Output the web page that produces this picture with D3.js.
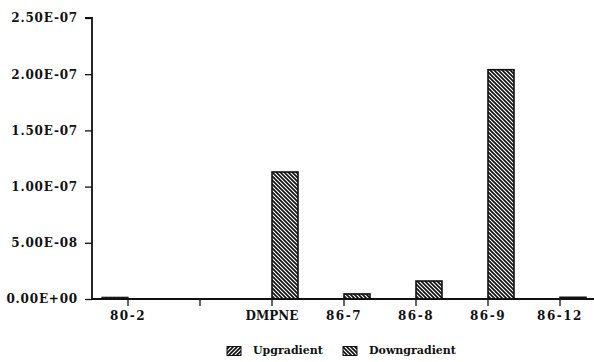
<!DOCTYPE html>
<html>
<head>
<meta charset="utf-8">
<script src="https://cdn.jsdelivr.net/npm/d3@7"></script>
<style>
  html, body { margin: 0; padding: 0; background: #fff; }
  svg { display: block; }
</style>
</head>
<body>
<svg id="chart" width="594" height="362"></svg>
<script>
const categories = ["80-2", "", "DMPNE", "86-7", "86-8", "86-9", "86-12"];
const upgradient = [1.5e-9, 0, 0, 0, 0, 0, 0];
const downgradient = [0, 0, 1.13e-7, 4.5e-9, 1.6e-8, 2.04e-7, 1.5e-9];
const yTicks = [0, 5e-8, 1e-7, 1.5e-7, 2e-7, 2.5e-7];
const yTickLabels = ["0.00E+00", "5.00E-08", "1.00E-07", "1.50E-07", "2.00E-07", "2.50E-07"];
const seriesNames = ["Upgradient", "Downgradient"];

(function () {
const svg = d3.select("#chart");
const mLeft = 92, mRight = 596, mTop = 18, mBottom = 299;

const x = d3.scaleBand().domain(d3.range(categories.length)).range([mLeft, mRight]).padding(0);
const y = d3.scaleLinear().domain([0, 2.5e-7]).range([mBottom, mTop]);

const defs = svg.append("defs");
function hatch(id, dir) {
  const p = defs.append("pattern").attr("id", id).attr("patternUnits", "userSpaceOnUse")
    .attr("width", 4).attr("height", 4);
  p.append("rect").attr("width", 4).attr("height", 4).attr("fill", "#fff");
  if (dir > 0) {
    p.append("path").attr("d", "M-1,1 L1,-1 M0,4 L4,0 M3,5 L5,3").attr("stroke", "#111").attr("stroke-width", 1.7);
  } else {
    p.append("path").attr("d", "M-1,3 L1,5 M0,0 L4,4 M3,-1 L5,1").attr("stroke", "#111").attr("stroke-width", 1.7);
  }
}
hatch("up", 1);
hatch("down", -1);

const fontAxis = "'DejaVu Serif', serif";

// Bars
const barW = 26;
const g = svg.append("g");
g.selectAll("rect.up").data(upgradient).join("rect")
  .attr("class", "up")
  .attr("x", (d, i) => x(i) + x.bandwidth() / 2 - barW)
  .attr("y", d => y(d))
  .attr("width", barW)
  .attr("height", d => mBottom - y(d))
  .attr("fill", "url(#up)")
  .attr("stroke", d => d > 0 ? "#111" : "none")
  .attr("stroke-width", 1.2);
g.selectAll("rect.down").data(downgradient).join("rect")
  .attr("class", "down")
  .attr("x", (d, i) => x(i) + x.bandwidth() / 2)
  .attr("y", d => y(d))
  .attr("width", barW)
  .attr("height", d => mBottom - y(d))
  .attr("fill", "url(#down)")
  .attr("stroke", d => d > 0 ? "#111" : "none")
  .attr("stroke-width", 1.6);

// Y axis
const yAxis = d3.axisLeft(y).tickValues(yTicks).tickFormat((d, i) => yTickLabels[i]).tickSize(7).tickPadding(7);
const ya = svg.append("g").attr("transform", `translate(${mLeft},0)`).call(yAxis);
ya.select(".domain").attr("d", `M-7,${mTop}H0V${mBottom}`).attr("stroke", "#111").attr("stroke-width", 1.8);
ya.selectAll(".tick line").attr("stroke", "#111").attr("stroke-width", 1.3);
ya.selectAll(".tick text").attr("font-family", fontAxis).attr("font-weight", "bold")
  .attr("font-size", 12).attr("letter-spacing", "0.8px").attr("fill", "#111");

// X axis
const xAxis = d3.axisBottom(x).tickFormat(i => categories[i]).tickSize(7).tickPadding(5);
const xa = svg.append("g").attr("transform", `translate(0,${mBottom})`).call(xAxis);
xa.select(".domain").attr("d", `M${mLeft},0H594`).attr("stroke", "#111").attr("stroke-width", 1.8);
xa.selectAll(".tick line").attr("stroke", "#111").attr("stroke-width", 1.3);
xa.selectAll(".tick text").attr("font-family", fontAxis).attr("font-weight", "bold")
  .attr("font-size", 12)
  .attr("letter-spacing", i => /^[0-9]/.test(categories[i]) ? "1.5px" : "0px")
  .attr("fill", "#111");

// Legend
const legend = svg.append("g");
const legendItems = [
  { name: seriesNames[0], fill: "url(#up)", x: 227 },
  { name: seriesNames[1], fill: "url(#down)", x: 343 }
];
legendItems.forEach(it => {
  legend.append("rect").attr("x", it.x).attr("y", 346.5).attr("width", 14).attr("height", 9)
    .attr("fill", it.fill).attr("stroke", "#111").attr("stroke-width", 1);
  legend.append("text").attr("x", it.x + 26).attr("y", 354)
    .attr("font-family", fontAxis).attr("font-weight", "bold").attr("font-size", 11)
    .attr("fill", "#111").text(it.name);
});
})();
</script>
</body>
</html>
